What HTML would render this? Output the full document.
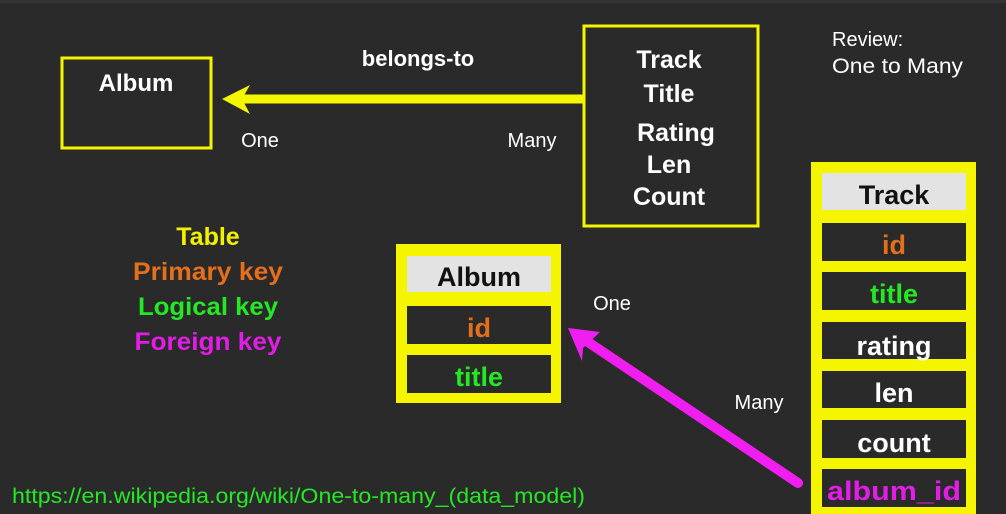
<!DOCTYPE html>
<html><head><style>
html,body{margin:0;padding:0;background:#2a2a2a;width:1006px;height:514px;overflow:hidden}
svg text{font-family:"Liberation Sans",sans-serif}
</style></head><body>
<svg width="1006" height="514" viewBox="0 0 1006 514" xmlns="http://www.w3.org/2000/svg">
<rect width="1006" height="514" fill="#2a2a2a"/>
<rect width="1006" height="3" fill="#333"/>
<rect x="62" y="58" width="149" height="90" fill="none" stroke="#f5f500" stroke-width="3"/>
<text x="136" y="91" text-anchor="middle" fill="#fff" font-size="24" font-weight="bold">Album</text>
<rect x="584" y="26" width="174" height="200" fill="none" stroke="#f5f500" stroke-width="3"/>
<g fill="#fff" font-size="25" font-weight="bold" text-anchor="middle">
<text x="669" y="68">Track</text>
<text x="669" y="102">Title</text>
<text x="676" y="141">Rating</text>
<text x="669" y="173">Len</text>
<text x="669" y="205">Count</text>
</g>
<line x1="584" y1="99" x2="240" y2="99" stroke="#f5f500" stroke-width="9"/>
<polygon points="222,99 250,85 242,99 250,114" fill="#f5f500"/>
<text x="418" y="66" text-anchor="middle" fill="#fff" font-size="22" font-weight="bold">belongs-to</text>
<text x="260" y="147" text-anchor="middle" fill="#fff" font-size="20">One</text>
<text x="532" y="147" text-anchor="middle" fill="#fff" font-size="20">Many</text>
<text x="832" y="46" fill="#fff" font-size="20">Review:</text>
<text x="832" y="73" fill="#fff" font-size="21" textLength="131" lengthAdjust="spacingAndGlyphs">One to Many</text>
<g font-size="25" font-weight="bold" text-anchor="middle">
<text x="208" y="245" fill="#f2f200">Table</text>
<text x="208" y="280" fill="#e5701c" textLength="150" lengthAdjust="spacingAndGlyphs">Primary key</text>
<text x="208" y="315" fill="#25e825" textLength="140" lengthAdjust="spacingAndGlyphs">Logical key</text>
<text x="208" y="350" fill="#e21ee6" textLength="147" lengthAdjust="spacingAndGlyphs">Foreign key</text>
</g>
<text x="12" y="503" fill="#25e825" font-size="21" textLength="573" lengthAdjust="spacingAndGlyphs">https://en.wikipedia.org/wiki/One-to-many_(data_model)</text>
<rect x="396" y="244" width="165" height="159" fill="#f5f500"/>
<rect x="407" y="256" width="144" height="36" fill="#e3e3e3"/>
<rect x="407" y="306" width="144" height="38" fill="#2a2a2a"/>
<rect x="407" y="355" width="144" height="38" fill="#2a2a2a"/>
<g font-size="27" font-weight="bold" text-anchor="middle">
<text x="479" y="286" fill="#111">Album</text>
<text x="479" y="337" fill="#e5701c">id</text>
<text x="479" y="386" fill="#25e825">title</text>
</g>
<rect x="811" y="162" width="165" height="360" fill="#f5f500"/>
<rect x="822" y="173" width="144" height="37" fill="#e3e3e3"/>
<rect x="822" y="223" width="144" height="38" fill="#2a2a2a"/>
<rect x="822" y="272" width="144" height="38" fill="#2a2a2a"/>
<rect x="822" y="322" width="144" height="37" fill="#2a2a2a"/>
<rect x="822" y="371" width="144" height="37" fill="#2a2a2a"/>
<rect x="822" y="420" width="144" height="38" fill="#2a2a2a"/>
<rect x="822" y="469" width="144" height="38" fill="#2a2a2a"/>
<g font-size="27" font-weight="bold" text-anchor="middle">
<text x="894" y="204" fill="#111">Track</text>
<text x="894" y="254" fill="#e5701c">id</text>
<text x="894" y="303" fill="#25e825">title</text>
<text x="894" y="355" fill="#fff">rating</text>
<text x="894" y="402" fill="#fff">len</text>
<text x="894" y="452" fill="#fff">count</text>
<text x="894" y="500" fill="#e21ee6" textLength="134" lengthAdjust="spacingAndGlyphs">album_id</text>
</g>
<line x1="798" y1="483" x2="585" y2="340" stroke="#f01ef0" stroke-width="10" stroke-linecap="round"/>
<polygon points="568,328 600,332 583,348 582,361" fill="#f01ef0"/>
<text x="612" y="310" text-anchor="middle" fill="#fff" font-size="20">One</text>
<text x="759" y="409" text-anchor="middle" fill="#fff" font-size="20">Many</text>
</svg>
</body></html>
